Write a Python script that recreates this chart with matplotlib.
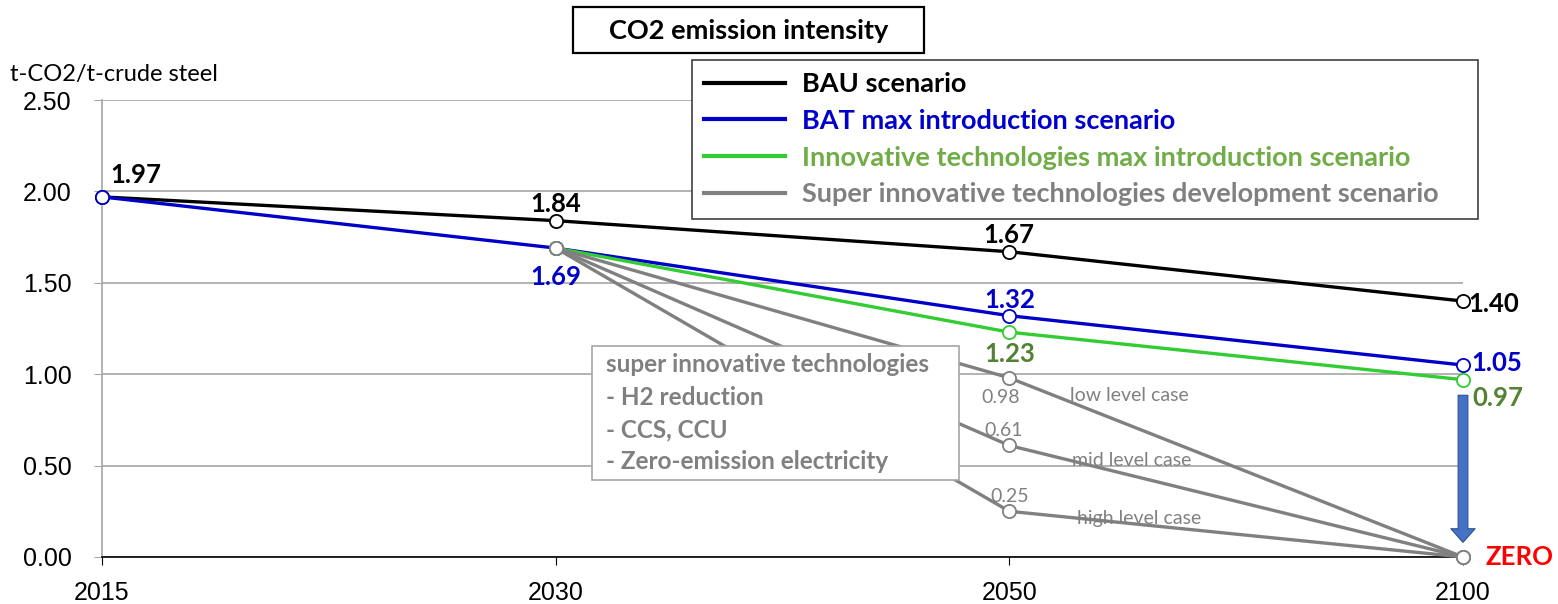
import numpy as np
import matplotlib.pyplot as plt
from matplotlib.patches import Rectangle

# data
years = ["2015", "2030", "2050", "2100"]
bau = [1.97, 1.84, 1.67, 1.40]
bat = [1.97, 1.69, 1.32, 1.05]
innov_years = ["2030", "2050", "2100"]
innov = [1.69, 1.23, 0.97]
super_years = ["2030", "2050", "2100"]
super_low = [1.69, 0.98, 0.0]
super_mid = [1.69, 0.61, 0.0]
super_high = [1.69, 0.25, 0.0]
yticks = [0.0, 0.5, 1.0, 1.5, 2.0, 2.5]

W, H = 1558, 604


def fx(x):
    return x / W


def fy(y):
    return 1 - y / H


black = "#000000"
blue = "#0000C8"
green_line = "#33CC33"
green_text = "#70AD47"
green_lab = "#548235"
gray = "#808080"

fig = plt.figure(figsize=(W / 100, H / 100), dpi=100)
ax = fig.add_axes([fx(102), fy(557), fx(1463) - fx(102), fy(100) - fy(557)])

xpos = {y: i for i, y in enumerate(years)}
mk = dict(marker="o", markersize=9.5, markerfacecolor="white", markeredgewidth=1.3,
          linewidth=2.4, clip_on=False)

l_bau, = ax.plot([xpos[y] for y in years], bau, color=black, markeredgecolor=black,
                 label="BAU scenario", zorder=3, **mk)
l_bat, = ax.plot([xpos[y] for y in years], bat, color=blue, markeredgecolor=blue,
                 label="BAT max introduction scenario", zorder=4, **mk)
l_inn, = ax.plot([xpos[y] for y in innov_years], innov, color=green_line,
                 markeredgecolor=green_line,
                 label="Innovative technologies max introduction scenario", zorder=4, **mk)
sx = [xpos[y] for y in super_years]
l_sup, = ax.plot(sx, super_low, color=gray, markeredgecolor=gray,
                 label="Super innovative technologies development scenario", zorder=5, **mk)
ax.plot(sx, super_mid, color=gray, markeredgecolor=gray, zorder=5, **mk)
ax.plot(sx, super_high, color=gray, markeredgecolor=gray, zorder=5, **mk)

ax.set_xlim(0, 3)
ax.set_ylim(0, 2.5)
ax.set_xticks(range(len(years)))
ax.set_xticklabels(years)
ax.set_yticks(yticks)
ax.set_yticklabels([f"{v:.2f}" for v in yticks])
ax.grid(axis="y", color="#A6A6A6", linewidth=1.2)
ax.set_axisbelow(True)
for s in ["top", "right"]:
    ax.spines[s].set_visible(False)
ax.spines["left"].set_color("#A6A6A6")
ax.spines["left"].set_linewidth(1.2)
ax.spines["bottom"].set_color(black)
ax.spines["bottom"].set_linewidth(1.2)
ax.tick_params(axis="y", length=6, color="#A6A6A6", pad=16, labelsize=18)
ax.tick_params(axis="x", length=6, color=black, pad=11, labelsize=18)
for t in ax.get_xticklabels() + ax.get_yticklabels():
    t.set_fontfamily("Liberation Sans")

lab_font = dict(family="Lato", fontweight="bold", fontsize=18.5)
small_font = dict(family="Lato", fontsize=14)


def label(x, y, text, dx, dy, color, ha="center", **kw):
    ax.annotate(text, (x, y), xytext=(dx, dy), textcoords="offset points",
                ha=ha, va="center", color=color, zorder=6, **kw)


# BAU labels
label(xpos["2015"], bau[0], f"{bau[0]:.2f}", 6, 16, black, ha="left", **lab_font)
label(xpos["2030"], bau[1], f"{bau[1]:.2f}", 0, 12, black, **lab_font)
label(xpos["2050"], bau[2], f"{bau[2]:.2f}", 0, 12, black, **lab_font)
label(xpos["2100"], bau[3], f"{bau[3]:.2f}", 4, -2, black, ha="left", **lab_font)
# BAT labels
label(xpos["2030"], bat[1], f"{bat[1]:.2f}", 0, -21, blue, **lab_font)
label(xpos["2050"], bat[2], f"{bat[2]:.2f}", 0, 11, blue, **lab_font)
label(xpos["2100"], bat[3], f"{bat[3]:.2f}", 6, 1.5, blue, ha="left", **lab_font)
# innovative labels
label(xpos["2050"], innov[1], f"{innov[1]:.2f}", 0, -16, green_lab, **lab_font)
label(xpos["2100"], innov[2], f"{innov[2]:.2f}", 7, -13, green_lab, ha="left", **lab_font)
# super innovative labels
label(xpos["2050"], super_low[1], f"{super_low[1]:.2f}", -6, -14, gray, **small_font)
label(xpos["2050"], super_mid[1], f"{super_mid[1]:.2f}", -4, 11, gray, **small_font)
label(xpos["2050"], super_high[1], f"{super_high[1]:.2f}", 0, 11, gray, **small_font)
label(xpos["2050"], super_low[1], "low level case", 44, -13, gray, ha="left", **small_font)
label(xpos["2050"], super_mid[1], "mid level case", 45, -11, gray, ha="left", **small_font)
label(xpos["2050"], super_high[1], "high level case", 49, -5, gray, ha="left", **small_font)
label(xpos["2100"], super_low[2], "ZERO", 16, 0, "#FF0000", ha="left", **lab_font)

# arrow towards zero
ax.annotate("", xy=(xpos["2100"], 0.065), xytext=(xpos["2100"], 0.90),
            arrowprops=dict(arrowstyle="simple,head_width=1.25,head_length=0.7,tail_width=0.5",
                            mutation_scale=14, fc="#4472C4", ec="#2F528F", lw=0.8),
            zorder=7, annotation_clip=False)

# text box with technologies
fig.add_artist(Rectangle((fx(591.5), fy(480)), fx(958.5) - fx(591.5), fy(345.7) - fy(480),
                         transform=fig.transFigure, fc="white", ec="#A6A6A6", lw=1.2, zorder=5))
box_lines = ["super innovative technologies", "- H2 reduction", "- CCS, CCU",
             "- Zero-emission electricity"]
for i, t in enumerate(box_lines):
    fig.text(fx(606), fy(365 + 32.3 * i), t, ha="left", va="center", color=gray,
             family="Lato", fontweight="bold", fontsize=17.5, zorder=6)

# title box
fig.add_artist(Rectangle((fx(573), fy(53)), fx(924) - fx(573), fy(7) - fy(53),
                         transform=fig.transFigure, fc="white", ec=black, lw=1.6, zorder=5))
fig.text(fx(748.5), fy(31), "CO2 emission intensity", ha="center", va="center",
         family="Lato", fontweight="bold", fontsize=19.5, zorder=6)

# unit label
fig.text(fx(10), fy(75), "t-CO2/t-crude steel", ha="left", va="center",
         family="Lato", fontsize=17)

leg = ax.legend(handles=[l_bau, l_bat, l_inn, l_sup], loc="upper left",
                bbox_to_anchor=(fx(692), fy(212), fx(1478) - fx(692), fy(60) - fy(212)),
                bbox_transform=fig.transFigure, mode="expand", borderaxespad=0,
                prop=dict(family="Lato", weight="bold", size=19.5), fancybox=False,
                framealpha=1, edgecolor="#404040", handlelength=3.0, handletextpad=0.6,
                labelspacing=0.47, borderpad=0.45,
                labelcolor=[black, "#0000CC", green_text, gray])
leg.get_frame().set_linewidth(1.2)
for h in leg.get_lines():
    h.set_marker("")
    h.set_linewidth(3)
leg.set_zorder(8)

fig.savefig("out.png", dpi=100)
